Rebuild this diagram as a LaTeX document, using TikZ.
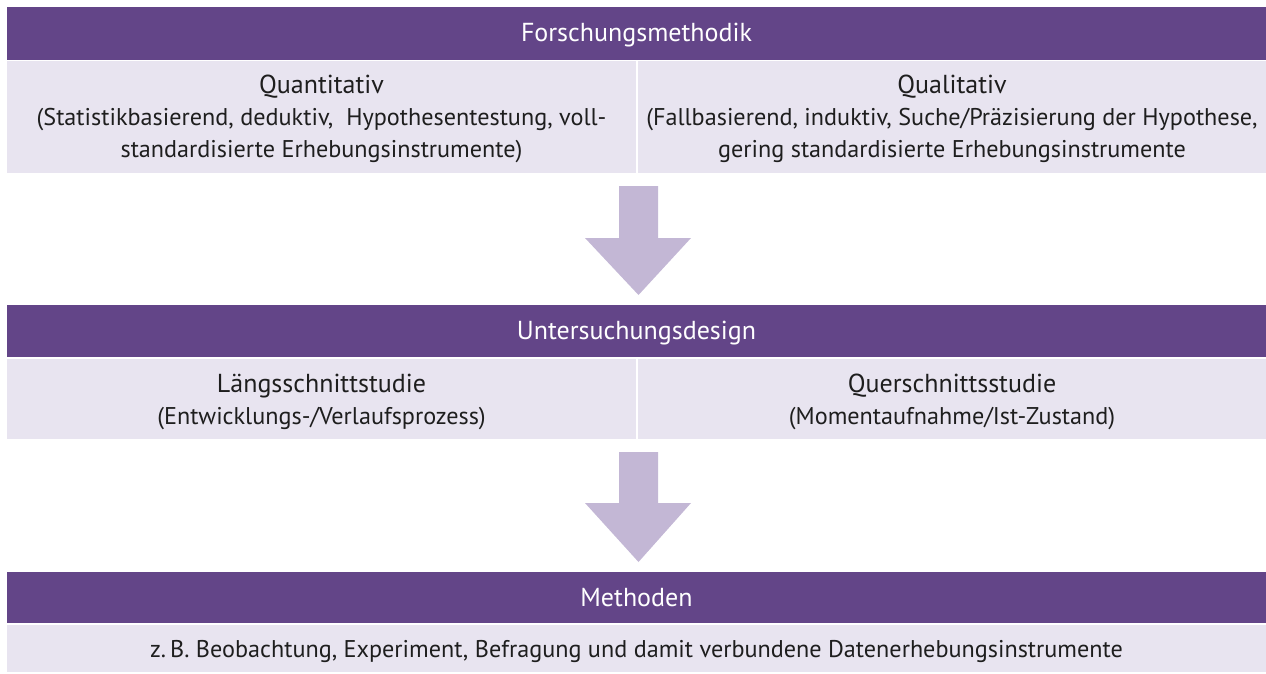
\documentclass[tikz,border=0pt]{standalone}
\usepackage{fontspec}
\setmainfont{PT Sans}
\definecolor{headpurple}{HTML}{634588}
\definecolor{bandlav}{HTML}{E8E4F0}
\definecolor{arrowlav}{HTML}{C3B7D5}
\definecolor{textdark}{HTML}{1E1E1E}
\tikzset{
  header/.style={fill=headpurple, draw=none},
  band/.style={fill=bandlav, draw=none},
  headtext/.style={text=white, font=\fontsize{26}{30}\selectfont, anchor=base, inner sep=0pt},
  titletext/.style={text=textdark, font=\fontsize{26}{30}\selectfont, anchor=base, inner sep=0pt},
  bodytext/.style={text=textdark, font=\fontsize{24.2}{29}\selectfont, anchor=base, inner sep=0pt},
  blockarrow/.style={fill=arrowlav, draw=none}
}
\begin{document}
\begin{tikzpicture}[x=1pt,y=-1pt]
\useasboundingbox (0,0) rectangle (1266,673);

% Forschungsmethodik
\path[header] (7,7) rectangle (1266,60);
\node[headtext] (h1) at (636.5,41) {Forschungsmethodik};
\path[band] (7,61) rectangle (636,173);
\path[band] (638,61) rectangle (1266,173);
\node[titletext] (qt1) at (321.5,93) {Quantitativ};
\node[bodytext] (qt2) at (321.5,125) {(Statistikbasierend, deduktiv,\ \ Hypothesentestung, voll-};
\node[bodytext] (qt3) at (321.5,157) {standardisierte Erhebungsinstrumente)};
\node[titletext] (ql1) at (952,93) {Qualitativ};
\node[bodytext] (ql2) at (952,125) {(Fallbasierend, induktiv, Suche/Präzisierung der Hypothese,};
\node[bodytext] (ql3) at (952,157) {gering standardisierte Erhebungsinstrumente};

% arrow down
\path[blockarrow] (619,186) -- (658,186) -- (658,238) -- (691,238) -- (638.5,295)
  -- (585,238) -- (619,238) -- cycle;

% Untersuchungsdesign
\path[header] (7,305) rectangle (1266,357);
\node[headtext] (h2) at (636.5,339) {Untersuchungsdesign};
\path[band] (7,359) rectangle (636,439);
\path[band] (638,359) rectangle (1266,439);
\node[titletext] (ls1) at (321.5,392) {Längsschnittstudie};
\node[bodytext] (ls2) at (321.5,424) {(Entwicklungs-/Verlaufsprozess)};
\node[titletext] (qs1) at (952,392) {Querschnittsstudie};
\node[bodytext] (qs2) at (952,424) {(Momentaufnahme/Ist-Zustand)};

% arrow down
\path[blockarrow] (619,452) -- (658,452) -- (658,503) -- (691,503) -- (638.5,562)
  -- (585,503) -- (619,503) -- cycle;

% Methoden
\path[header] (7,572) rectangle (1266,623);
\node[headtext] (h3) at (636.5,606) {Methoden};
\path[band] (7,625) rectangle (1266,672);
\node[bodytext] (m1) at (636.5,657) {z.\,B. Beobachtung, Experiment, Befragung und damit verbundene Datenerhebungsinstrumente};
\end{tikzpicture}
\end{document}
